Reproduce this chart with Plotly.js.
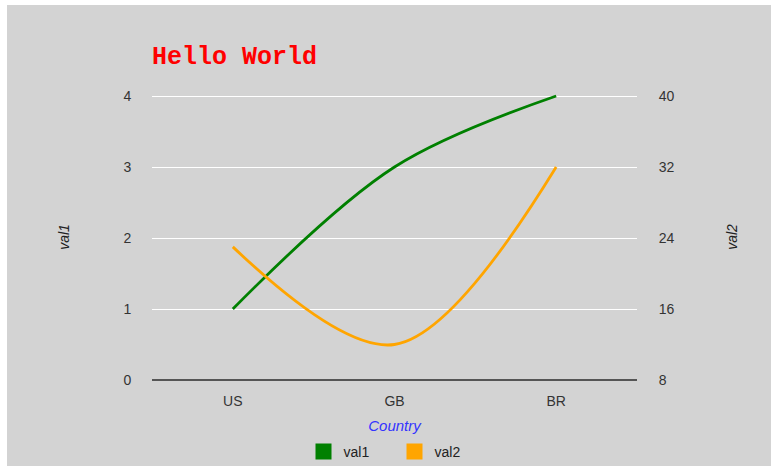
<!DOCTYPE html>
<html>
<head>
<meta charset="utf-8">
<script src="https://cdn.plot.ly/plotly-3.0.1.min.js"></script>
<style>
  html, body { margin: 0; padding: 0; background: #ffffff; }
  #chart { position: absolute; left: 7px; top: 5px; width: 764px; height: 461px; }
</style>
</head>
<body>
<div id="chart"></div>
<script>
const countries = ["US", "GB", "BR"];
const val1 = [1, 3, 4];
const val2 = [23, 12, 32];
const leftTicks = [0, 1, 2, 3, 4];
const rightTicks = [8, 16, 24, 32, 40];

const green = "#008000";
const orange = "#FFA500";

const traces = [
  {
    x: countries, y: val1, name: "val1", type: "scatter", mode: "lines",
    line: { color: green, width: 2.8, shape: "spline", smoothing: 1 },
    yaxis: "y", showlegend: false, legendgroup: "a", hoverinfo: "x+y"
  },
  {
    x: countries, y: val2, name: "val2", type: "scatter", mode: "lines",
    line: { color: orange, width: 2.8, shape: "spline", smoothing: 1 },
    yaxis: "y2", showlegend: false, legendgroup: "b", hoverinfo: "x+y"
  },
  {
    x: countries, y: countries.map(() => null), name: "val1", type: "scatter", mode: "markers",
    marker: { color: green, symbol: "square", size: 16 }, legendgroup: "a", hoverinfo: "skip"
  },
  {
    x: countries, y: countries.map(() => null), name: "val2", type: "scatter", mode: "markers",
    marker: { color: orange, symbol: "square", size: 16 }, legendgroup: "b", yaxis: "y2", hoverinfo: "skip"
  }
];

const tickFont = { family: "Liberation Sans, Arial, sans-serif", size: 14, color: "#333333" };

const layout = {
  width: 764, height: 461,
  paper_bgcolor: "#d3d3d3",
  plot_bgcolor: "#d3d3d3",
  margin: { l: 145, r: 134, t: 89, b: 86, autoexpand: false },
  title: {
    text: "<b>Hello World</b>",
    font: { family: "Liberation Mono, Courier New, monospace", size: 25, color: "#ff0000" },
    x: 0, xanchor: "left", xref: "paper",
    y: 1 - 50 / 461, yanchor: "middle"
  },
  xaxis: {
    type: "category",
    range: [-0.5, 2.5],
    showgrid: false,
    showline: false,
    ticks: "outside", ticklen: 8, tickcolor: "rgba(0,0,0,0)",
    tickfont: tickFont,
    title: { text: "<i>Country</i>", font: { family: "Liberation Sans, Arial, sans-serif", size: 15, color: "#3333ff" }, standoff: 12 },
    automargin: false,
    fixedrange: true
  },
  yaxis: {
    range: [0, 4.0282],
    tickvals: leftTicks,
    ticktext: leftTicks.map(String),
    showgrid: true, gridcolor: "#ffffff", gridwidth: 1.3,
    zeroline: true, zerolinecolor: "#555555", zerolinewidth: 2,
    showline: false,
    ticks: "outside", ticklen: 17, tickcolor: "rgba(0,0,0,0)",
    tickfont: tickFont,
    title: { text: "<i>val1</i>", font: { family: "Liberation Sans, Arial, sans-serif", size: 14, color: "#222222" }, standoff: 50 },
    automargin: false,
    fixedrange: true
  },
  yaxis2: {
    range: [8, 40.2254],
    tickvals: rightTicks,
    ticktext: rightTicks.map(String),
    overlaying: "y", side: "right",
    showgrid: false, zeroline: false, showline: false,
    ticks: "outside", ticklen: 18, tickcolor: "rgba(0,0,0,0)",
    tickfont: tickFont,
    title: { text: "<i>val2</i>", font: { family: "Liberation Sans, Arial, sans-serif", size: 14, color: "#222222" }, standoff: 53 },
    automargin: false,
    fixedrange: true
  },
  legend: {
    orientation: "h",
    x: 0.5, xanchor: "center", xref: "paper",
    y: -72 / 286, yanchor: "middle",
    bgcolor: "rgba(0,0,0,0)",
    font: { family: "Liberation Sans, Arial, sans-serif", size: 14, color: "#222222" },
    itemwidth: 30, traceorder: "normal",
    entrywidth: 46, entrywidthmode: "pixels"
  },
  showlegend: true,
  hovermode: "closest"
};

Plotly.newPlot("chart", traces, layout, { displayModeBar: false });
</script>
</body>
</html>
